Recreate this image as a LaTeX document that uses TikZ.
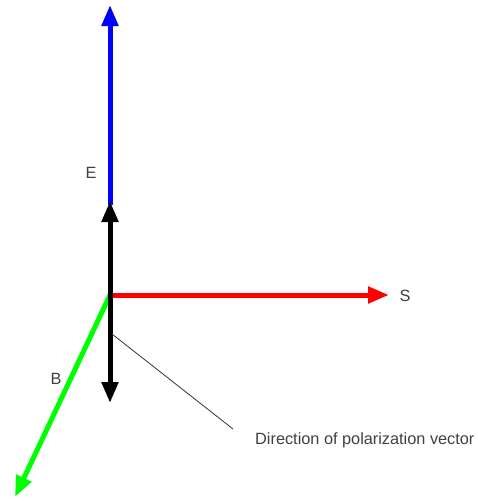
\documentclass[tikz,border=0pt]{standalone}
\usepackage{fontspec}
\setmainfont{Liberation Sans}
\usetikzlibrary{arrows.meta}
\begin{document}
\begin{tikzpicture}[x=1pt,y=-1pt,
  vec/.style={line width=5pt,-{Triangle[length=21pt,width=16pt]}},
  lbl/.style={font=\fontsize{16.3}{19}\selectfont,text=black!75,inner sep=0pt}]
\useasboundingbox (0,0) rectangle (477,501);
\coordinate (O) at (110,295);
\coordinate (Etip) at (110,5);
\coordinate (Estart) at (110,205);
\coordinate (Ptip) at (110,201);
\coordinate (Ntip) at (110,403);
\coordinate (Stip) at (389,295);
\coordinate (Btip) at (15,497);
\coordinate (L1) at (112,334);
\coordinate (L2) at (233,429);
\draw[vec,blue] (Estart) -- (Etip);
\draw[vec,red] (O) -- (Stip);
\draw[vec,green] (O) -- (Btip);
\draw[vec,black] (O) -- (Ptip);
\draw[vec,black] (O) -- (Ntip);
\draw[black!80,line width=0.8pt] (L1) -- (L2);
\node[lbl] (E) at (91,173) {E};
\node[lbl] (S) at (405,296) {S};
\node[lbl] (B) at (56,379) {B};
\node[lbl,anchor=west] (D) at (255,440) {Direction of polarization vector};
\end{tikzpicture}
\end{document}
